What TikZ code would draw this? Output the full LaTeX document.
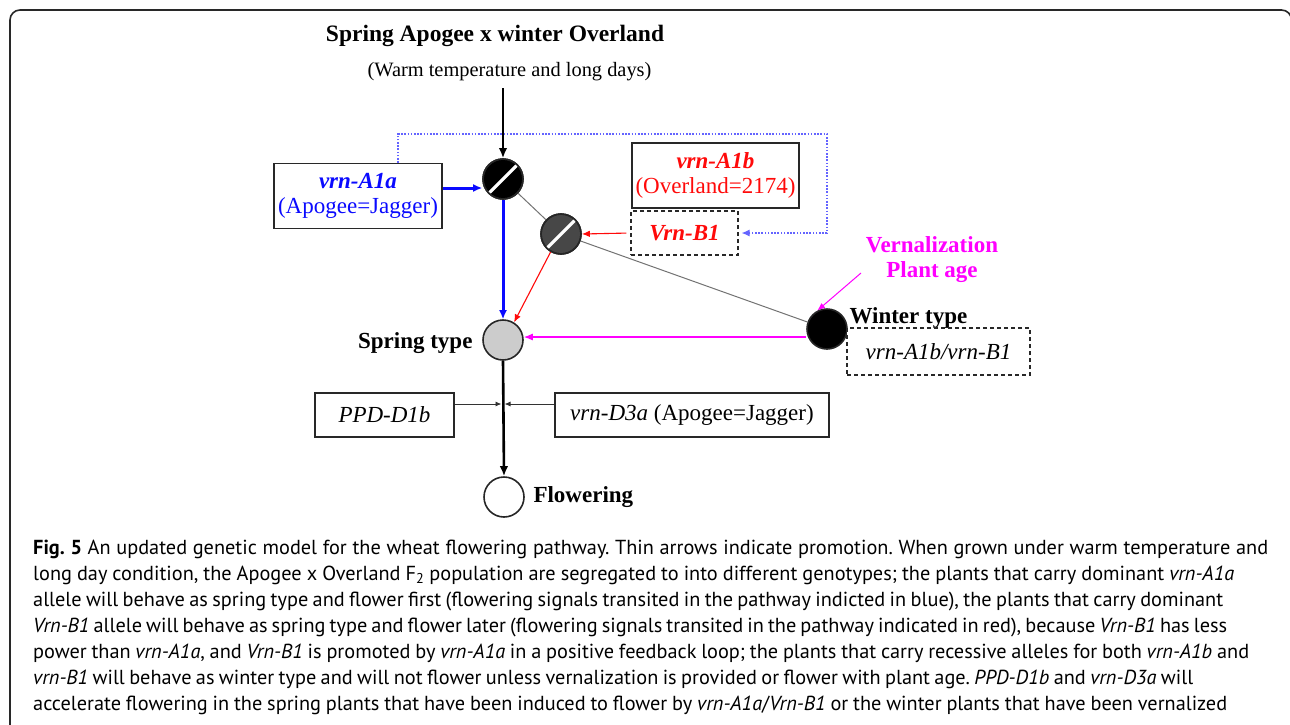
\documentclass[tikz,border=0pt]{standalone}
\usepackage{fontspec}
\setmainfont{Liberation Serif}
\newfontfamily\capfont{PT Sans}
\usetikzlibrary{arrows.meta}
\frenchspacing

\definecolor{pathblue}{RGB}{10,10,255}
\definecolor{pathred}{RGB}{255,10,10}
\definecolor{pathmag}{RGB}{255,0,255}
\definecolor{loopblue}{RGB}{100,100,255}
\definecolor{frame}{RGB}{40,40,40}

% one caption line set to a given width by flexing the word spaces
\newcommand{\capline}[2]{{\spaceskip=0.26em plus 0.4em minus 0.14em\relax\hbox to #1{#2}}}

\tikzset{
  genebox/.style={draw=frame, line width=1.3pt, fill=white, inner sep=2pt, align=center},
  dashbox/.style={draw=frame, line width=1.2pt, dash pattern=on 4pt off 3pt, fill=white, inner sep=2pt, align=center},
  state/.style={circle, draw=black!85, line width=1.6pt, minimum size=40pt, inner sep=0pt},
  thick arrow/.style={line width=2.6pt, -{Latex[length=10pt,width=8.5pt]}},
  thin arrow/.style={line width=1.1pt, -{Latex[length=8pt,width=6.5pt]}},
  big/.style={font=\fontsize{23}{25}\selectfont},
  bigbold/.style={font=\bfseries\fontsize{23}{25}\selectfont},
  caption line/.style={anchor=base west, inner sep=0pt, font=\capfont\fontsize{20.3}{24}\selectfont}
}

\begin{document}
\begin{tikzpicture}[x=1pt, y=-1pt]
\useasboundingbox (0,0) rectangle (1290,724);
\clip (0,0) rectangle (1290,724);

% outer frame
\draw[frame, line width=1.6pt, rounded corners=10pt] (10,760) -- (10,10) -- (1291.5,10) -- (1291.5,760);

% headings
\node[font=\bfseries\fontsize{23.5}{26}\selectfont] (title) at (495,36) {Spring Apogee x winter Overland};
\node[font=\fontsize{20.4}{24}\selectfont] (cond) at (509.5,72) {(Warm temperature and long days)};

% state circles
\node[state, fill=black] (c1) at (503,179) {};
\node[state, fill=black!72] (c2) at (561,234) {};
\node[state, fill=black!20] (spring) at (503,340) {};
\node[state, fill=black] (winter) at (827,329) {};
\node[state, fill=white] (flower) at (504,497) {};

% white stripes across the two switch circles
\foreach \c in {c1,c2}{
  \draw[white, line width=3.2pt] ([shift={(-14,14)}]\c.center) -- ([shift={(14,-14)}]\c.center);
  \draw[black!85, line width=1.6pt] (\c) circle[radius=20pt];
}

% state labels
\node[bigbold, anchor=east] (springlbl) at (476,343) {Spring type};
\node[bigbold, anchor=base west] (winterlbl) at (846,323) {Winter type};
\node[bigbold, anchor=west] (flowerlbl) at (530,497) {Flowering};
\node[bigbold, text=pathmag, align=center] (vern) at (932,260) {Vernalization\\Plant age};

% gene boxes
\node[genebox, big, text=pathblue, minimum width=168pt, minimum height=65pt] (a1a) at (358,196)
  {\textbf{\textit{vrn-A1a}}\\(Apogee=Jagger)};
\node[genebox, big, text=pathred, minimum width=167pt, minimum height=65pt] (a1b) at (715.5,175.5)
  {\textbf{\textit{vrn-A1b}}\\(Overland=2174)};
\node[dashbox, big, text=pathred, minimum width=107pt, minimum height=44pt] (b1) at (684.5,233)
  {\textbf{\textit{Vrn-B1}}};
\node[dashbox, big, minimum width=183pt, minimum height=47pt] (wgen) at (938.5,351.5)
  {\textit{vrn-A1b/vrn-B1}};
\node[genebox, big, minimum width=139pt, minimum height=44pt] (ppd) at (384.5,415)
  {\textit{PPD-D1b}};
\node[genebox, big, minimum width=274pt, minimum height=44pt] (d3a) at (692,415)
  {\textit{vrn-D3a} (Apogee=Jagger)};

% gray links between switch states
\draw[black!55, line width=1pt] (c1) -- (c2);
\draw[black!55, line width=1pt] (c2) -- (winter);

% main pathway
\coordinate (top) at (503,88);
\draw[black, thick arrow] (top) -- (c1.north);
\coordinate (a1aout) at ([yshift=8pt]a1a.east);
\draw[pathblue, line width=3pt, -{Latex[length=9pt,width=8pt]}] (a1aout) -- (a1aout -| c1.west);
\draw[pathblue, line width=3pt, -{Latex[length=9pt,width=8pt]}] (c1.south) -- (spring.north);
\draw[black, thick arrow] (spring.south) -- (flower.north);

% red pathway
\draw[pathred, thin arrow, shorten <=4pt] (b1.west) -- (c2.east);
\draw[pathred, thin arrow] (c2.240) -- (spring.58);

% feedback loop
\draw[loopblue, line width=1.1pt, dash pattern=on 1.6pt off 1.6pt, -{Latex[length=8pt,width=7pt]}, shorten >=3pt]
  ([xshift=40pt]a1a.north) |- (827,134) |- (b1.east);

% vernalization
\coordinate (vtail) at (861,273);
\draw[pathmag, line width=1pt, -{Latex[length=8pt,width=6pt]}] (vtail) -- (winter.118);
\coordinate (wm) at ([yshift=-8pt]winter.west);
\draw[pathmag, line width=1.1pt, -{Latex[length=9pt,width=7pt]}] (wm) -- (wm -| spring.east);

% photoperiod / earliness inputs
\coordinate (junc) at (503,404);
\draw[black!80, line width=0.9pt, -{Latex[length=6pt,width=5pt]}] ([yshift=11pt]ppd.east) -- ([xshift=-1.5pt]junc);
\draw[black!80, line width=0.9pt, -{Latex[length=6pt,width=5pt]}] ([yshift=11pt]d3a.west) -- ([xshift=1.5pt]junc);

% caption
\node[caption line] (l1) at (33,554) {\capline{1235pt}{\textbf{Fig. 5} An updated genetic model for the wheat flowering pathway. Thin arrows indicate promotion. When grown under warm temperature and}};
\node[caption line] (l2) at (33,580) {\capline{1201pt}{long day condition, the Apogee x Overland F\textsubscript{2} population are segregated to into different genotypes; the plants that carry dominant \textit{vrn-A1a}}};
\node[caption line] (l3) at (33,606) {\capline{1190pt}{allele will behave as spring type and flower first (flowering signals transited in the pathway indicted in blue), the plants that carry dominant}};
\node[caption line] (l4) at (33,632) {\capline{1194pt}{\textit{Vrn-B1} allele will behave as spring type and flower later (flowering signals transited in the pathway indicated in red), because \textit{Vrn-B1} has less}};
\node[caption line] (l5) at (33,658) {\capline{1216pt}{power than \textit{vrn-A1a}, and \textit{Vrn-B1} is promoted by \textit{vrn-A1a} in a positive feedback loop; the plants that carry recessive alleles for both \textit{vrn-A1b} and}};
\node[caption line] (l6) at (33,684) {\capline{1160pt}{\textit{vrn-B1} will behave as winter type and will not flower unless vernalization is provided or flower with plant age. \textit{PPD-D1b} and \textit{vrn-D3a} will}};
\node[caption line] (l7) at (33,710) {\capline{1194pt}{accelerate flowering in the spring plants that have been induced to flower by \textit{vrn-A1a}/\textit{Vrn-B1} or the winter plants that have been vernalized}};
\end{tikzpicture}
\end{document}
